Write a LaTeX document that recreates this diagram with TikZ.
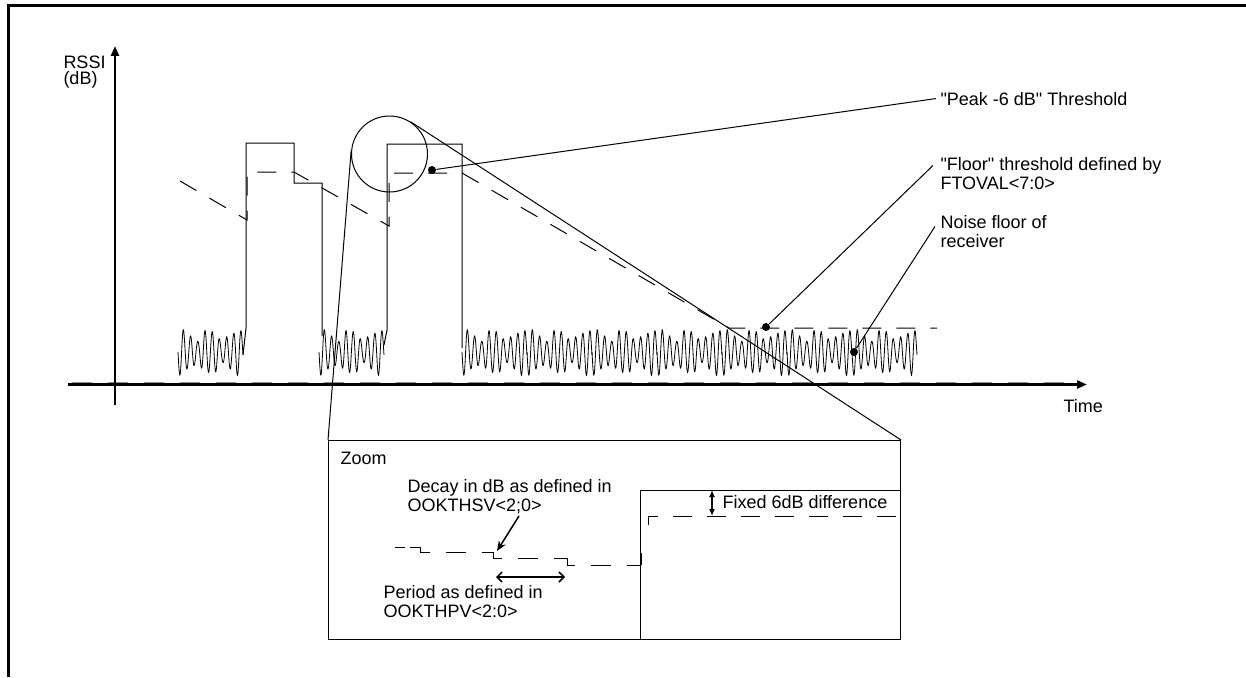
\documentclass[tikz,border=0pt]{standalone}
\usepackage{fontspec}
\setmainfont{Liberation Sans}[Ligatures=TeXOff]
\definecolor{floorGray}{HTML}{8C8C8C}
\usetikzlibrary{arrows.meta, positioning, calc}

\begin{document}
\begin{tikzpicture}[x=1pt, y=-1pt, line width=1pt,
    every node/.style={font=\fontsize{18}{19}\selectfont, inner sep=0pt},
    dot/.style={circle, fill, minimum size=8pt},
    thr/.style={dash pattern=on 19pt off 15pt},
    stair/.style={dash pattern=on 15pt off 16pt on 20pt off 16pt},
    noisy/.style={line width=0.8pt},
    axis/.style={line width=2.5pt, -{Triangle[length=10pt,width=8pt]}}]
\useasboundingbox (0,0) rectangle (1246,677);
\draw[line width=3pt] (8,677) -- (8,6) -- (1246,6);

\draw[floorGray, line width=1.5pt, dash pattern=on 20pt off 16pt] (72,382.5) -- (1078,382.5);
\draw[axis] (68,384.5) -- (1087,384.5);
\draw[axis] (115,405) -- (115,46);
\node[anchor=base west, align=left, font=\fontsize{18}{16}\selectfont] (rssi) at (63,84) {RSSI\\(dB)};
\node[anchor=base west] (time) at (1063,412) {Time};

\draw (243,355) -- (246,328) -- (246,143) -| (294,183) -| (322,336);
\draw (384,345) -- (387,330) -- (387,144) -| (462,348);
\draw[thr] (180,181) -- (247,220) -- (247,172) -- (294,172) -- (389,226) -- (389,173)
  -- (462,173) -- (729,328) -- (937,328);
\foreach \xs in {178,319,462,527,592,657,722,787,852}
  \draw[noisy] plot[domain=0:65, samples=260] ({\xs+\x}, {352+(17+5*sin(13*\x+40)+2*sin(31*\x))*sin(50*\x)});

\node[anchor=base west] (peaklab) at (940,105) {"Peak -6 dB" Threshold};
\node[anchor=base west, align=left] (floorlab) at (940,189) {"Floor" threshold defined by\\FTOVAL<7:0>};
\node[anchor=base west, align=left] (noiselab) at (940,247) {Noise floor of\\receiver};
\node[dot] (peakdot) at (432,170) {};
\node[dot] (floordot) at (766,327) {};
\node[dot] (noisedot) at (854,352) {};
\draw (peakdot) -- ([xshift=-4pt]peaklab.west);
\draw (floordot) -- ([xshift=-7pt,yshift=-9pt]floorlab.north west);
\draw (noisedot) -- ([xshift=-5pt,yshift=-12pt]noiselab.north west);

\node[circle, draw, minimum size=76pt] (zcirc) at (389.5,154) {};
\node[draw, anchor=north west, minimum width=572pt, minimum height=199pt] (zbox) at (328,440) {};
\draw (zbox.north west) -- (tangent cs:node=zcirc, point={(zbox.north west)}, solution=2);
\draw (zbox.north east) -- (tangent cs:node=zcirc, point={(zbox.north east)}, solution=1);
\draw (640,639) |- (900,490);

\node[anchor=base west] (zoomlab) at (340,464) {Zoom};
\node[anchor=base west, align=left] (decaylab) at (407,511) {Decay in dB as defined in\\OOKTHSV<2;0>};
\node[anchor=base west, align=left] (periodlab) at (383,617) {Period as defined in\\OOKTHPV<2:0>};
\node[anchor=base west] (difflab) at (722,508) {Fixed 6dB difference};
\draw[dash pattern=on 10pt off 5pt] (395,547) -- (420,547);
\foreach \xa/\xb/\ya/\yb in {420/493/547/552, 493/567/552/558, 567/641/558/565}
  \draw[stair] (\xa,\ya) -- (\xa,\yb) -- (\xb,\yb);
\draw (641,565) -- (641,553);
\draw[thr] (648,525) -- (648,516) -- (900,516);
\coordinate (decaytail) at (519,516);
\coordinate (decaytip) at (497,551);
\coordinate (perA) at (496,577);
\coordinate (perB) at (565,577);
\coordinate (diffA) at (712,490);
\coordinate (diffB) at (712,516);
\draw[line width=1.5pt, -{Stealth[length=10pt,width=8pt]}] (decaytail) -- (decaytip);
\draw[line width=1.5pt, {Straight Barb[length=5pt,width=10pt]}-{Straight Barb[length=5pt,width=10pt]}] (perA) -- (perB);
\draw[line width=1.5pt, {Latex[length=7pt,width=6pt]}-{Latex[length=7pt,width=6pt]}] (diffA) -- (diffB);
\end{tikzpicture}
\end{document}
